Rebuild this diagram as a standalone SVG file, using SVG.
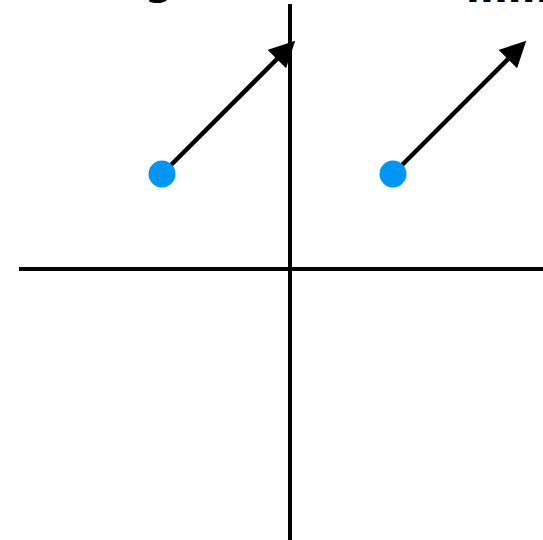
<svg xmlns="http://www.w3.org/2000/svg" width="543" height="540" viewBox="0 0 543 540">
<style>
.ax{stroke:#000;stroke-width:4;fill:none}
.vec{stroke:#000;stroke-width:4.5;fill:none;marker-end:url(#ah)}
.pt{fill:#0096f5}
.ttl{font-family:"DejaVu Sans",sans-serif;font-weight:bold;font-size:40px;fill:#000}
</style>
<defs>
<marker id="ah" markerUnits="userSpaceOnUse" markerWidth="30" markerHeight="28" refX="3" refY="13" orient="auto">
<path d="M0,0 L26,13 L0,26 Z" fill="#000"/>
</marker>
</defs>
<rect width="543" height="540" fill="#fff"/>
<g id="titles">
<text class="ttl" x="159" y="-6" text-anchor="middle">g</text>
<text class="ttl" x="466" y="2">mm</text>
</g>
<g id="axes">
<line class="ax" x1="290" y1="4" x2="290" y2="540"/>
<line class="ax" x1="19" y1="269" x2="543" y2="269"/>
</g>
<g id="connectors">
<line class="vec" x1="162" y1="174" x2="279" y2="57"/>
<line class="vec" x1="393" y1="174" x2="510" y2="57"/>
</g>
<g id="p1"><circle class="pt" cx="162" cy="174" r="13.5"/></g>
<g id="p2"><circle class="pt" cx="393" cy="174" r="13.5"/></g>
</svg>
